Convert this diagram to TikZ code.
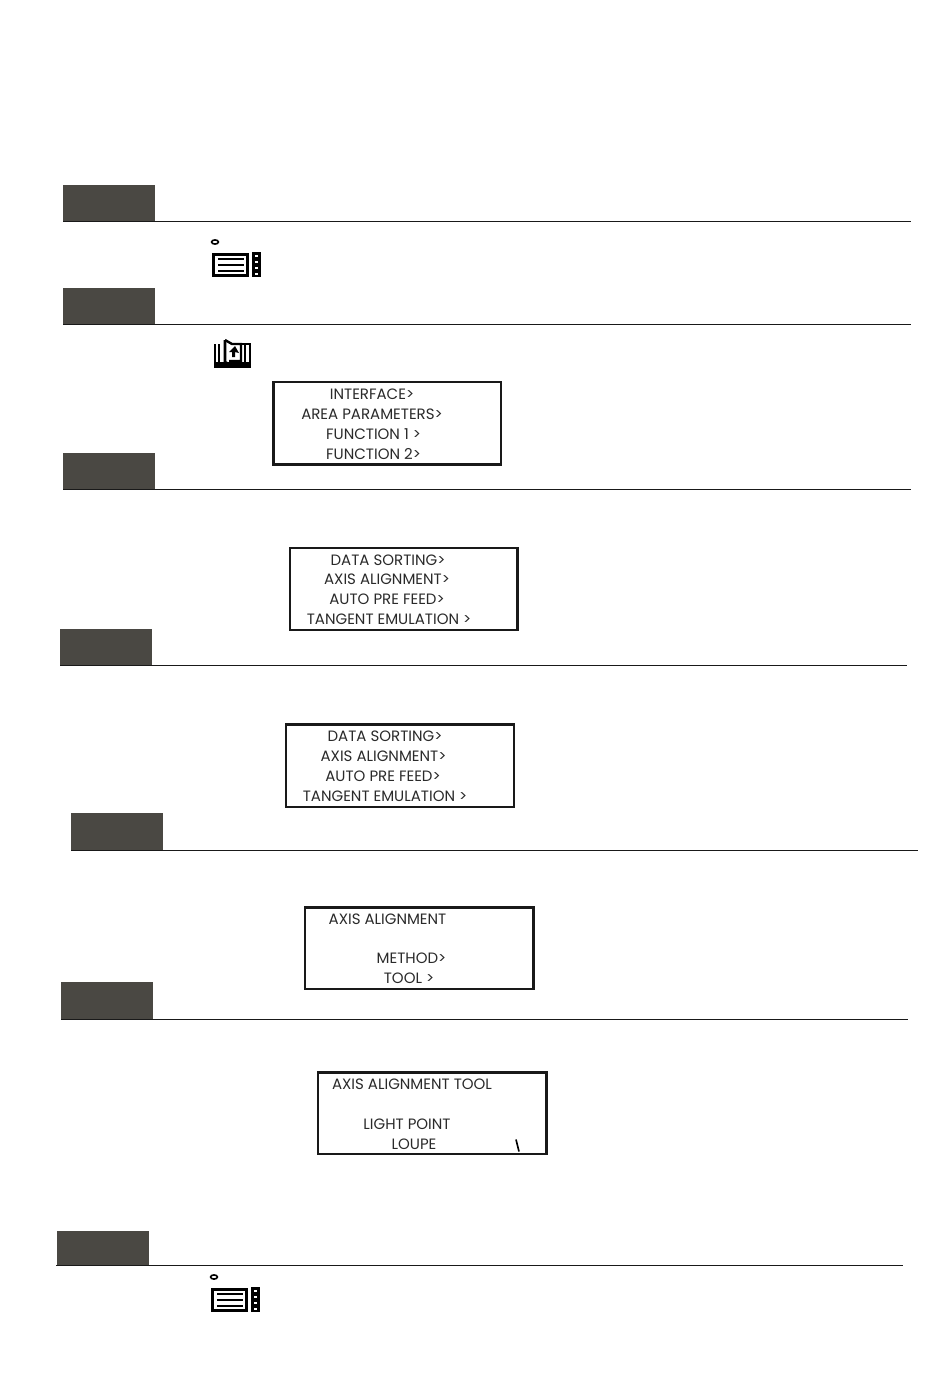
\documentclass[tikz,border=0pt]{standalone}
\usepackage{fontspec}
\setmainfont{Poppins}
\definecolor{tabgray}{HTML}{4A4843}
\definecolor{lcdtext}{HTML}{2A2A2A}
\tikzset{
  x=1pt,y=-1pt,
  rulel/.style={draw=black!90,line width=1.2pt},
  lcdbox/.style={draw=black!90,line width=2.1pt,fill=white},
  lcdline/.style={inner sep=0pt,anchor=base,text=lcdtext,font=\fontsize{15}{17}\selectfont},
  menuicon/.pic={
    \draw[line width=3pt] (1,1) rectangle (35,22);
    \foreach \yy in {6,12,18}{\draw[line width=2.6pt] (6,\yy) -- (32,\yy);}
    \foreach \yy in {0.5,6.5,12.5,18.5}{\draw[line width=2.6pt] (41.5,\yy) rectangle (47.5,\yy+4.5);}
    \draw[line width=1.6pt] (3,-11) ellipse (3.4 and 2.1);
  },
  bookicon/.pic={
    \draw[line width=2.6pt] (0,4) -- (0,27) -- (35,27) -- (35,4) -- (26,4);
    \draw[line width=2pt] (4,4) -- (4,24) -- (10,24);
    \draw[line width=2.6pt] (10,0) -- (10,22) -- (17,26);
    \draw[line width=2.4pt] (10,0) -- (17,4) -- (26,4) -- (26,21) -- (14,21);
    \fill (14,12) -- (20,6) -- (24,13) -- (20,12) -- (20,17) -- (17,17) -- (17,12) -- cycle;
    \fill (1,22) rectangle (34,27);
    \draw[line width=1.6pt] (30,5) -- (30,24);
  }
}
\begin{document}
\begin{tikzpicture}
\useasboundingbox (0,0) rectangle (950,1395);
% section headers
\fill[tabgray] (63,185) rectangle (155,221);
\draw[rulel] (63,221.5) -- (911,221.5);
\fill[tabgray] (63,288) rectangle (155,324);
\draw[rulel] (63,324.5) -- (911,324.5);
\fill[tabgray] (63,453) rectangle (155,489);
\draw[rulel] (63,489.5) -- (911,489.5);
\fill[tabgray] (60,629) rectangle (152,665);
\draw[rulel] (60,665.5) -- (907,665.5);
\fill[tabgray] (71,813) rectangle (163,850);
\draw[rulel] (71,850.5) -- (918,850.5);
\fill[tabgray] (61,982) rectangle (153,1019);
\draw[rulel] (61,1019.5) -- (908,1019.5);
\fill[tabgray] (57,1231) rectangle (149,1265);
\draw[rulel] (56,1265.5) -- (903,1265.5);
% icons
\pic at (212,253) {menuicon};
\pic at (215,340) {bookicon};
\pic at (211,1288) {menuicon};
% LCD 1
\draw[lcdbox] (273.5,382) rectangle (501,464.5);
\node[lcdline] (a1) at (372,399) {INTERFACE>};
\node[lcdline] (a2) at (372,419) {AREA PARAMETERS>};
\node[lcdline] (a3) at (373.5,439) {FUNCTION 1 >};
\node[lcdline] (a4) at (373.5,459) {FUNCTION 2>};
% LCD 2
\draw[lcdbox] (290,548) rectangle (517.5,630);
\node[lcdline] (b1) at (388,565) {DATA SORTING>};
\node[lcdline] (b2) at (387,584.5) {AXIS ALIGNMENT>};
\node[lcdline] (b3) at (387,604.5) {AUTO PRE FEED>};
\node[lcdline] (b4) at (389,624.5) {TANGENT EMULATION >};
% LCD 3
\draw[lcdbox] (286,724.5) rectangle (514,807);
\node[lcdline] (c1) at (385,741) {DATA SORTING>};
\node[lcdline] (c2) at (383.5,761) {AXIS ALIGNMENT>};
\node[lcdline] (c3) at (383,781) {AUTO PRE FEED>};
\node[lcdline] (c4) at (385,801) {TANGENT EMULATION >};
% LCD 4
\draw[lcdbox] (305,907.5) rectangle (533.5,989);
\node[lcdline] (d1) at (387.5,924) {AXIS ALIGNMENT};
\node[lcdline] (d2) at (411.5,963.5) {METHOD>};
\node[lcdline] (d3) at (409,983.5) {TOOL >};
% LCD 5
\draw[lcdbox] (318,1072.5) rectangle (546.5,1154);
\node[lcdline] (e1) at (412,1089.5) {AXIS ALIGNMENT TOOL};
\node[lcdline] (e2) at (407,1129) {LIGHT POINT};
\node[lcdline] (e3) at (414,1149) {LOUPE};
\draw[line width=1.6pt] (516,1139.5) -- (519,1151.5);
\end{tikzpicture}
\end{document}
